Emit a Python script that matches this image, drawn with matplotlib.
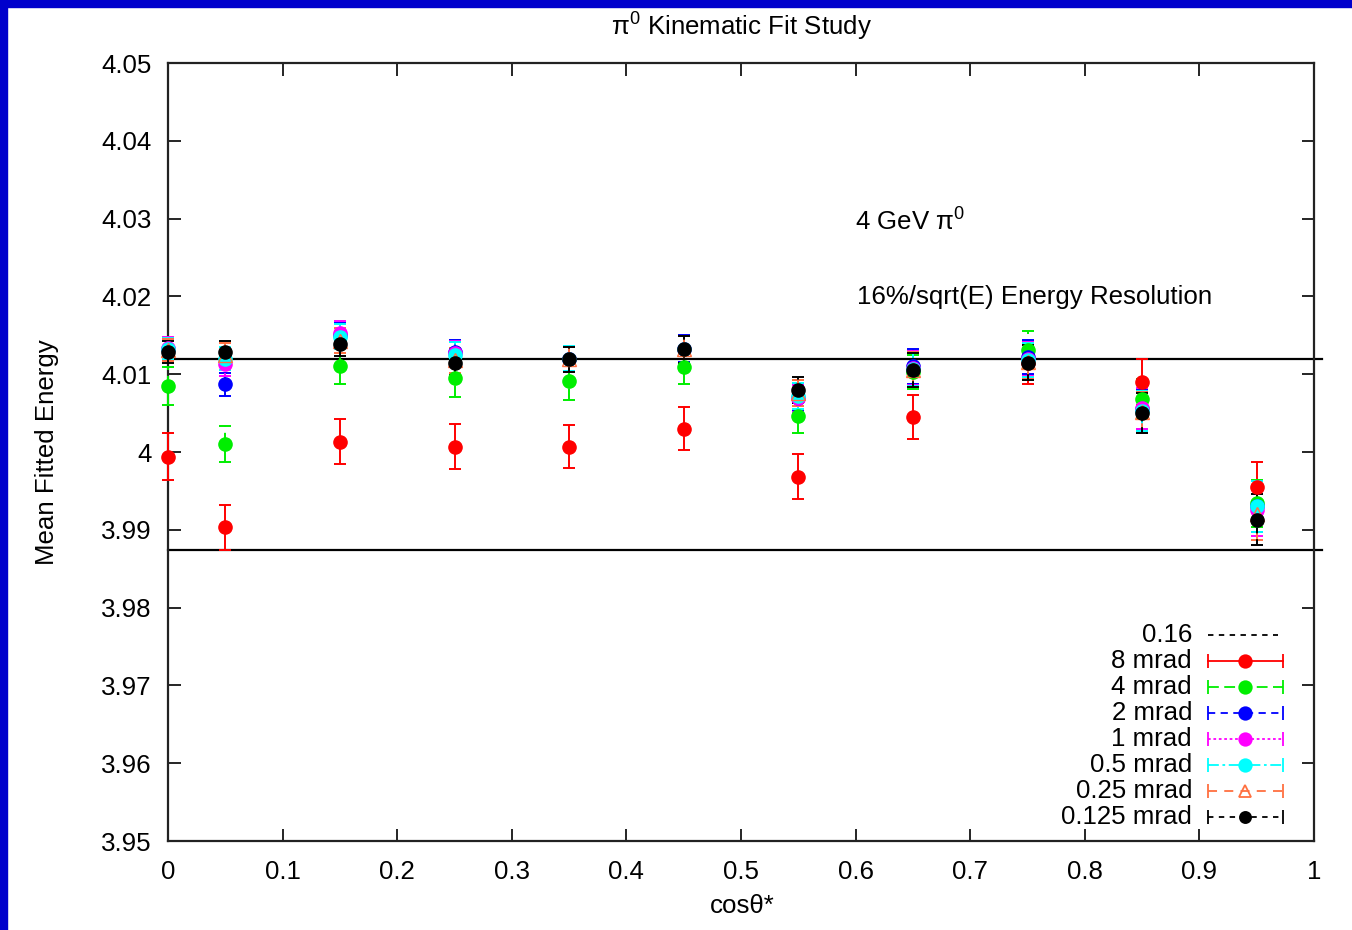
import matplotlib
matplotlib.use("Agg")
import matplotlib.pyplot as plt
from matplotlib.lines import Line2D
from matplotlib.patches import Rectangle
from matplotlib.ticker import FuncFormatter

plt.rcParams['font.family'] = ['Liberation Sans', 'DejaVu Sans']
plt.rcParams['mathtext.fontset'] = 'custom'
plt.rcParams['mathtext.rm'] = 'Liberation Sans'
plt.rcParams['mathtext.it'] = 'Liberation Sans:italic'

# ---- data ----
cos_theta = [0.0, 0.05, 0.15, 0.25, 0.35, 0.45, 0.55, 0.65, 0.75, 0.85, 0.95]

e_8mrad = [3.9994, 3.9903, 4.0013, 4.0007, 4.0007, 4.0030, 3.9968, 4.0045, 4.0115, 4.0090, 3.9955]
err_8mrad = [0.0030, 0.0029, 0.0029, 0.0029, 0.0028, 0.0028, 0.0029, 0.0028, 0.0028, 0.0029, 0.0032]

e_4mrad = [4.0085, 4.0010, 4.0111, 4.0095, 4.0091, 4.0109, 4.0046, 4.0103, 4.0131, 4.0068, 3.9934]
err_4mrad = [0.0024, 0.0023, 0.0024, 0.0024, 0.0024, 0.0022, 0.0022, 0.0022, 0.0024, 0.0026, 0.0030]

e_2mrad = [4.0132, 4.0087, 4.0150, 4.0128, 4.0120, 4.0133, 4.0070, 4.0110, 4.0122, 4.0055, 3.9930]
e_1mrad = [4.0134, 4.0113, 4.0153, 4.0127, 4.0120, 4.0132, 4.0069, 4.0108, 4.0120, 4.0056, 3.9925]
e_05mrad = [4.0133, 4.0120, 4.0148, 4.0125, 4.0120, 4.0132, 4.0072, 4.0107, 4.0118, 4.0053, 3.9930]
e_025mrad = [4.0131, 4.0125, 4.0143, 4.0118, 4.0119, 4.0132, 4.0076, 4.0106, 4.0116, 4.0051, 3.9920]
e_0125mrad = [4.0129, 4.0128, 4.0139, 4.0115, 4.0119, 4.0132, 4.0080, 4.0105, 4.0115, 4.0050, 3.9913]
err_small = [0.0014, 0.0015, 0.0016, 0.0016, 0.0016, 0.0017, 0.0017, 0.0022, 0.0022, 0.0026, 0.0033]

band_upper = 4.0120
band_lower = 3.9874

legend_labels = ['0.16', '8 mrad', '4 mrad', '2 mrad', '1 mrad', '0.5 mrad', '0.25 mrad', '0.125 mrad']

x_ticks = [0.0, 0.1, 0.2, 0.3, 0.4, 0.5, 0.6, 0.7, 0.8, 0.9, 1.0]
y_ticks = [3.95, 3.96, 3.97, 3.98, 3.99, 4.00, 4.01, 4.02, 4.03, 4.04, 4.05]

FS = 18.6

# ---- figure ----
W, H = 1352, 930
fig = plt.figure(figsize=(W / 100, H / 100), dpi=100)
fig.patch.set_facecolor('white')
ax = fig.add_axes([168 / W, 1 - 841 / H, (1314 - 168) / W, (841 - 63) / H])

# blue border
fig.patches.append(Rectangle((0, 0), 7 / W, 1, transform=fig.transFigure, color='#0000cc', zorder=10))
fig.patches.append(Rectangle((0, 1 - 7 / H), 1, 7 / H, transform=fig.transFigure, color='#0000cc', zorder=10))

series = [
    (e_8mrad, err_8mrad, 'red', '-', 'o', 'red'),
    (e_4mrad, err_4mrad, '#00ee00', (0, (6, 3)), 'o', '#00ee00'),
    (e_2mrad, err_small, 'blue', (0, (4, 3)), 'o', 'blue'),
    (e_1mrad, err_small, 'magenta', (0, (1.5, 1.5)), 'o', 'magenta'),
    (e_05mrad, err_small, 'cyan', (0, (6, 2, 1.5, 2)), 'o', 'cyan'),
    (e_025mrad, err_small, '#ff7040', (0, (5, 4)), '^', 'none'),
    (e_0125mrad, err_small, 'black', (0, (3, 3)), 'o', 'black'),
]

for vals, errs, col, ls, mk, mfc in series:
    cont = ax.errorbar(cos_theta, vals, yerr=errs, fmt=mk, color=col, mfc=mfc,
                       mec=col, ms=9.5, capsize=4.6, capthick=1.4, elinewidth=1.4, zorder=3)
    cont[0].set_clip_on(False)
    for cl in cont[1]:
        cl.set_clip_on(False)
    for lc in cont[2]:
        lc.set_linestyle(ls)
        lc.set_clip_on(False)

ax.axhline(band_upper, xmin=0, xmax=1.007, color='black', lw=1.6, clip_on=False, zorder=2)
ax.axhline(band_lower, xmin=0, xmax=1.007, color='black', lw=1.6, clip_on=False, zorder=2)

ax.set_xlim(0, 1)
ax.set_ylim(3.95, 4.05)
ax.set_xticks(x_ticks)
ax.set_yticks(y_ticks)
ax.xaxis.set_major_formatter(FuncFormatter(lambda v, p: '%g' % round(v, 3)))
ax.yaxis.set_major_formatter(FuncFormatter(lambda v, p: '%g' % round(v, 3)))
ax.tick_params(direction='in', length=9, width=1.2, top=True, right=True,
               labelsize=FS, pad=12, colors='black')
ax.tick_params(axis='x', pad=14)
for s in ax.spines.values():
    s.set_linewidth(1.6)
    s.set_color('#222222')

ax.text(0.5995, 4.0296, r'4 GeV π$^0$', fontsize=FS, va='center', ha='left')
ax.text(0.601, 4.0199, '16%/sqrt(E) Energy Resolution', fontsize=FS, va='center', ha='left')

fig.text(741 / W, 1 - 27 / H, r'π$^0$ Kinematic Fit Study', fontsize=FS, ha='center', va='center')
fig.text(742 / W, 1 - 906 / H, 'cosθ*', fontsize=FS, ha='center', va='center')
fig.text(47 / W, 1 - 452 / H, 'Mean Fitted Energy', fontsize=FS, ha='center', va='center', rotation=90)

# ---- manual gnuplot-style legend ----
leg_styles = [
    ('black', (0, (3, 3)), None, None, False),
    ('red', '-', 'o', 'red', True),
    ('#00ee00', (0, (6, 3)), 'o', '#00ee00', True),
    ('blue', (0, (4, 3)), 'o', 'blue', True),
    ('magenta', (0, (1.5, 1.5)), 'o', 'magenta', True),
    ('cyan', (0, (6, 2, 1.5, 2)), 'o', 'cyan', True),
    ('#ff7040', (0, (5, 4)), '^', 'none', True),
    ('black', (0, (3, 3)), 'o', 'black', True),
]
for i, (lab, (col, ls, mk, mfc, caps)) in enumerate(zip(legend_labels, leg_styles)):
    yy = 1 - (635 + 26 * i) / H
    fig.text(1192 / W, yy, lab, fontsize=FS, ha='right', va='center')
    x1 = 1278 if not caps else 1283
    fig.add_artist(Line2D([1208 / W, x1 / W], [yy, yy], color=col, ls=ls, lw=1.3))
    if caps:
        fig.add_artist(Line2D([1208 / W, 1283 / W], [yy, yy], color=col, ls='none',
                              marker='|', ms=10, mew=1.3))
    if mk:
        size = 9 if mk == 'o' else 8
        if i == 7:
            size = 8
        fig.add_artist(Line2D([1245 / W], [yy], color=col, ls='none', marker=mk,
                              mfc=mfc, mec=col, ms=size, mew=1.3))

fig.savefig('out.png', dpi=100, facecolor='white')
